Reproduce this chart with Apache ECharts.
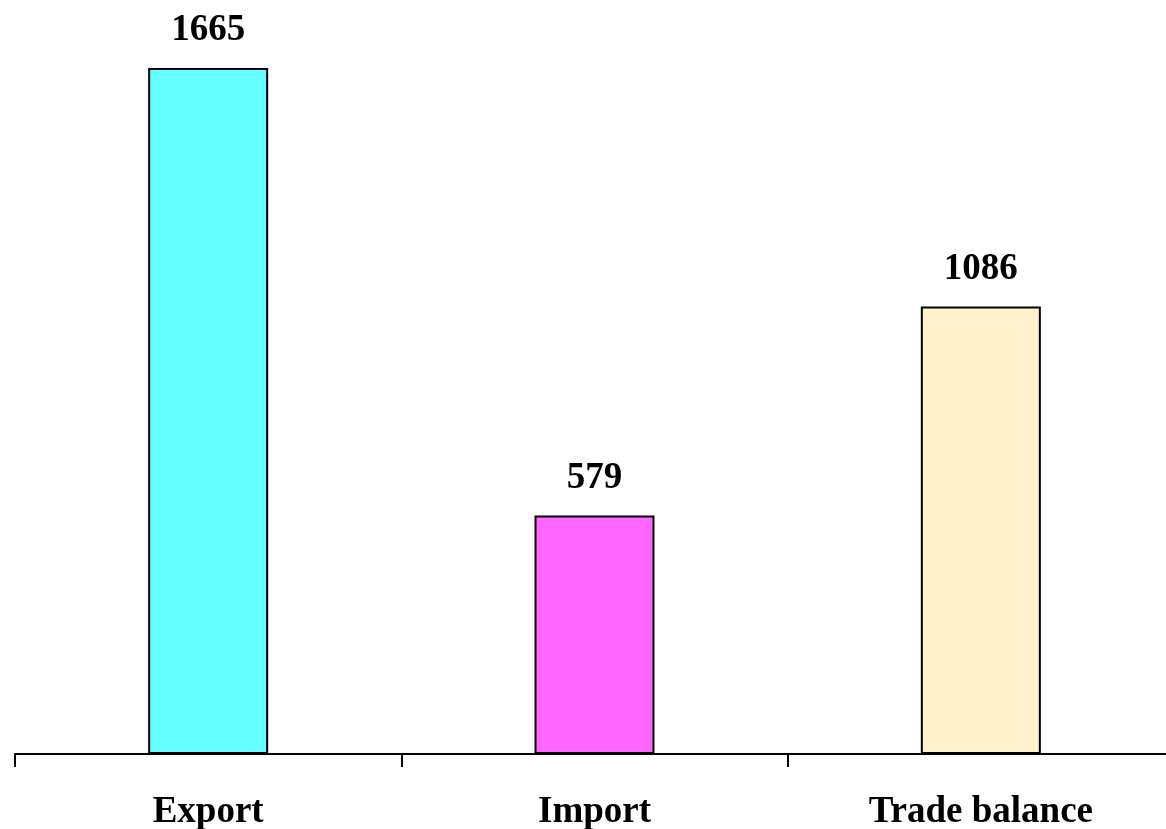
<!DOCTYPE html>
<html lang="en">
<head>
    <meta charset="UTF-8">
    <title>Trade</title>
    <script src="https://cdn.jsdelivr.net/npm/echarts@6/dist/echarts.min.js"></script>
    <style>
        html, body { margin: 0; padding: 0; background: #fff; }
    </style>
</head>
<body>
<div id="echarts" style="width: 1166px;height:829px"></div>
<script>
    var categories = ['Export', 'Import', 'Trade balance'];
    var values = [1665, 579, 1086];
    var barColors = ['#66ffff', '#ff66ff', '#fff2cc'];

    var chartDom = document.getElementById('echarts');
    var myChart = echarts.init(chartDom);
    var option;

    var font = '"Liberation Serif", "Times New Roman", serif';

    option = {
        animation: false,
        grid: {
            left: 15,
            width: 1159,
            top: 68,
            bottom: 75,
            outerBoundsMode: 'none',
            containLabel: false
        },
        xAxis: {
            type: 'category',
            data: categories,
            axisLine: { lineStyle: { color: '#000', width: 2 } },
            axisTick: { show: true, length: 13, lineStyle: { color: '#000', width: 2 } },
            axisLabel: {
                margin: 40,
                color: '#000',
                fontFamily: font,
                fontWeight: 'bold',
                fontSize: 37
            }
        },
        yAxis: {
            type: 'value',
            min: 0,
            max: 1665,
            show: false,
            splitLine: { show: false }
        },
        series: [{
            type: 'bar',
            barWidth: 120,
            data: values.map(function (v, i) {
                return { value: v, itemStyle: { color: barColors[i] } };
            }),
            itemStyle: { borderColor: '#000', borderWidth: 2 },
            label: {
                show: true,
                position: 'top',
                distance: 19,
                color: '#000',
                fontFamily: font,
                fontWeight: 'bold',
                fontSize: 37
            }
        }]
    };

    option && myChart.setOption(option);
</script>
</body>
</html>
